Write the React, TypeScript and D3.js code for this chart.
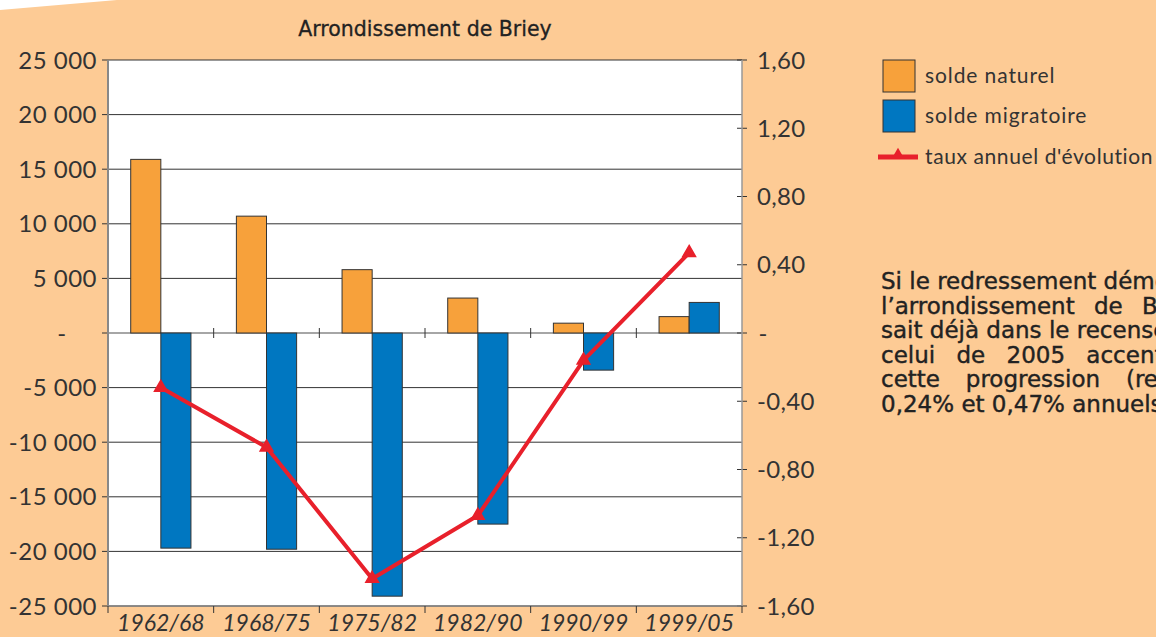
import React from "react";
import * as d3 from "d3";

const categories = ["1962/68", "1968/75", "1975/82", "1982/90", "1990/99", "1999/05"];
const soldeNaturel = [15900, 10700, 5800, 3200, 900, 1500];
const soldeMigratoire = [-19700, -19800, -24100, -17500, -3400, 2800];
const tauxAnnuel = [-0.32, -0.67, -1.44, -1.07, -0.16, 0.47];
const leftTicks = [25000, 20000, 15000, 10000, 5000, 0, -5000, -10000, -15000, -20000, -25000];
const rightTicks = [1.6, 1.2, 0.8, 0.4, 0, -0.4, -0.8, -1.2, -1.6];

// justified paragraph (cut by the right edge), extra word spacing per line
const textLines = [
  "Si le redressement démographique de",
  "l’arrondissement de Briey se produi-",
  "sait déjà dans le recensement de 1999,",
  "celui de 2005 accentue",
  "cette progression (respectivement",
  "0,24% et 0,47% annuels).",
];
const textWordSpacing = [0, 12, 0, 14, 18.5, 0];

const W = 1156;
const H = 637;
const plot = { left: 108, right: 742, top: 60, bottom: 606 };

const BG = "#fdcb95";
const ORANGE = "#f7a13b";
const BLUE = "#0077c1";
const RED = "#e8202b";
const FONT = "Lato, 'Open Sans', sans-serif";
const FONT2 = "'DejaVu Sans', sans-serif";

const loc = d3.formatLocale({ decimal: ",", thousands: " ", grouping: [3], currency: ["", ""], minus: "-" });
const fmtLeft = (v: number) => (v === 0 ? "-" : loc.format(",.0f")(v));
const fmtRight = (v: number) => (v === 0 ? "-" : loc.format(".2f")(v));

const App = () => {
  const x = d3.scaleBand().domain(categories).range([plot.left, plot.right]).padding(0);
  const y = d3.scaleLinear().domain([-25000, 25000]).range([plot.bottom, plot.top]);
  const y2 = d3.scaleLinear().domain([-1.6, 1.6]).range([plot.bottom, plot.top]);
  const barW = x.bandwidth() * 0.285;
  const cx = (c: string) => (x(c) as number) + x.bandwidth() / 2;

  const line = d3
    .line<number>()
    .x((_, i) => cx(categories[i]))
    .y((d) => y2(d));
  const tri = d3.symbol().type(d3.symbolTriangle).size(70)() as string;

  return (
    <svg width={W} height={H} style={{ position: "absolute", left: 0, top: 0, display: "block" }}>
      <rect x={0} y={0} width={W} height={H} fill={BG} />
      <polygon points="0,0 117,0 0,10" fill="#fff" />

      <text x={425} y={36} textAnchor="middle" fontFamily={FONT2} fontSize={20.5} fill="#222" stroke="#222" strokeWidth={0.3}>
        Arrondissement de Briey
      </text>

      <rect x={plot.left} y={plot.top} width={plot.right - plot.left} height={plot.bottom - plot.top} fill="#fff" />

      {leftTicks.map((t) => (
        <g key={"l" + t}>
          <line x1={plot.left} x2={plot.right} y1={y(t)} y2={y(t)} stroke={t === 0 ? "#888" : "#333"} strokeWidth={t === 0 ? 1.5 : 1} />
          <line x1={plot.left - 6} x2={plot.left} y1={y(t)} y2={y(t)} stroke="#333" />
          <text
            x={t === 0 ? 62 : 97}
            y={y(t)}
            dy="0.36em"
            textAnchor={t === 0 ? "middle" : "end"}
            fontFamily={FONT}
            fontSize={24}
            letterSpacing={0.5}
            fill="#333"
          >
            {fmtLeft(t)}
          </text>
        </g>
      ))}

      {rightTicks.map((t) => (
        <g key={"r" + t}>
          <line x1={plot.right - 5} x2={plot.right + 5} y1={y2(t)} y2={y2(t)} stroke="#333" />
          <text
            x={t === 0 ? 763 : 757}
            y={y2(t)}
            dy="0.36em"
            textAnchor={t === 0 ? "middle" : "start"}
            fontFamily={FONT}
            fontSize={24}
            letterSpacing={0.3}
            fill="#333"
          >
            {fmtRight(t)}
          </text>
        </g>
      ))}

      <line x1={plot.left} x2={plot.left} y1={plot.top} y2={plot.bottom} stroke="#888" strokeWidth={2} />
      <line x1={plot.right} x2={plot.right} y1={plot.top} y2={plot.bottom} stroke="#999" strokeWidth={1.5} />
      <line x1={plot.left} x2={plot.right} y1={plot.bottom} y2={plot.bottom} stroke="#888" strokeWidth={1.5} />

      {categories.map((c, i) => (
        <g key={c}>
          <rect x={cx(c) - barW} y={y(soldeNaturel[i])} width={barW} height={y(0) - y(soldeNaturel[i])} fill={ORANGE} stroke="#333" strokeWidth={1} />
          <rect
            x={cx(c)}
            y={y(Math.max(0, soldeMigratoire[i]))}
            width={barW}
            height={Math.abs(y(soldeMigratoire[i]) - y(0))}
            fill={BLUE}
            stroke="#333"
            strokeWidth={1}
          />
          <text x={cx(c)} y={631} textAnchor="middle" fontFamily={FONT} fontStyle="italic" fontSize={23} fill="#333">
            {c}
          </text>
        </g>
      ))}

      {categories.concat([""]).map((c, i) => {
        const xx = plot.left + i * x.bandwidth();
        return (
          <g key={"t" + i}>
            <line x1={xx} x2={xx} y1={plot.bottom} y2={plot.bottom + 7} stroke="#333" />
            {i > 0 && i < categories.length ? <line x1={xx} x2={xx} y1={y(0) - 5} y2={y(0) + 5} stroke="#333" /> : null}
          </g>
        );
      })}

      <path d={line(tauxAnnuel) as string} fill="none" stroke={RED} strokeWidth={4} strokeLinejoin="round" />
      {tauxAnnuel.map((v, i) => (
        <path key={"m" + i} d={tri} transform={`translate(${cx(categories[i])},${y2(v)})`} fill={RED} stroke={RED} strokeWidth={1.5} />
      ))}

      <rect x={883} y={60} width={32} height={32} fill={ORANGE} stroke="#333" />
      <text x={925} y={83} fontFamily={FONT} fontSize={21} letterSpacing={0.9} fill="#333">solde naturel</text>
      <rect x={883} y={100} width={32} height={32} fill={BLUE} stroke="#333" />
      <text x={925} y={123} fontFamily={FONT} fontSize={21} letterSpacing={0.9} fill="#333">solde migratoire</text>
      <line x1={878} x2={918} y1={157} y2={157} stroke={RED} strokeWidth={5} />
      <path d={tri} transform="translate(898,155)" fill={RED} />
      <text x={925} y={164} fontFamily={FONT} fontSize={21} letterSpacing={0.6} fill="#333">taux annuel d'évolution</text>

      {textLines.map((l, i) => (
        <text
          key={"tx" + i}
          x={881}
          y={289 + i * 24.6}
          fontFamily={FONT2}
          fontSize={23}
          wordSpacing={textWordSpacing[i]}
          fill="#222"
          stroke="#222"
          strokeWidth={0.4}
        >
          {l}
        </text>
      ))}
    </svg>
  );
};

export default App;
